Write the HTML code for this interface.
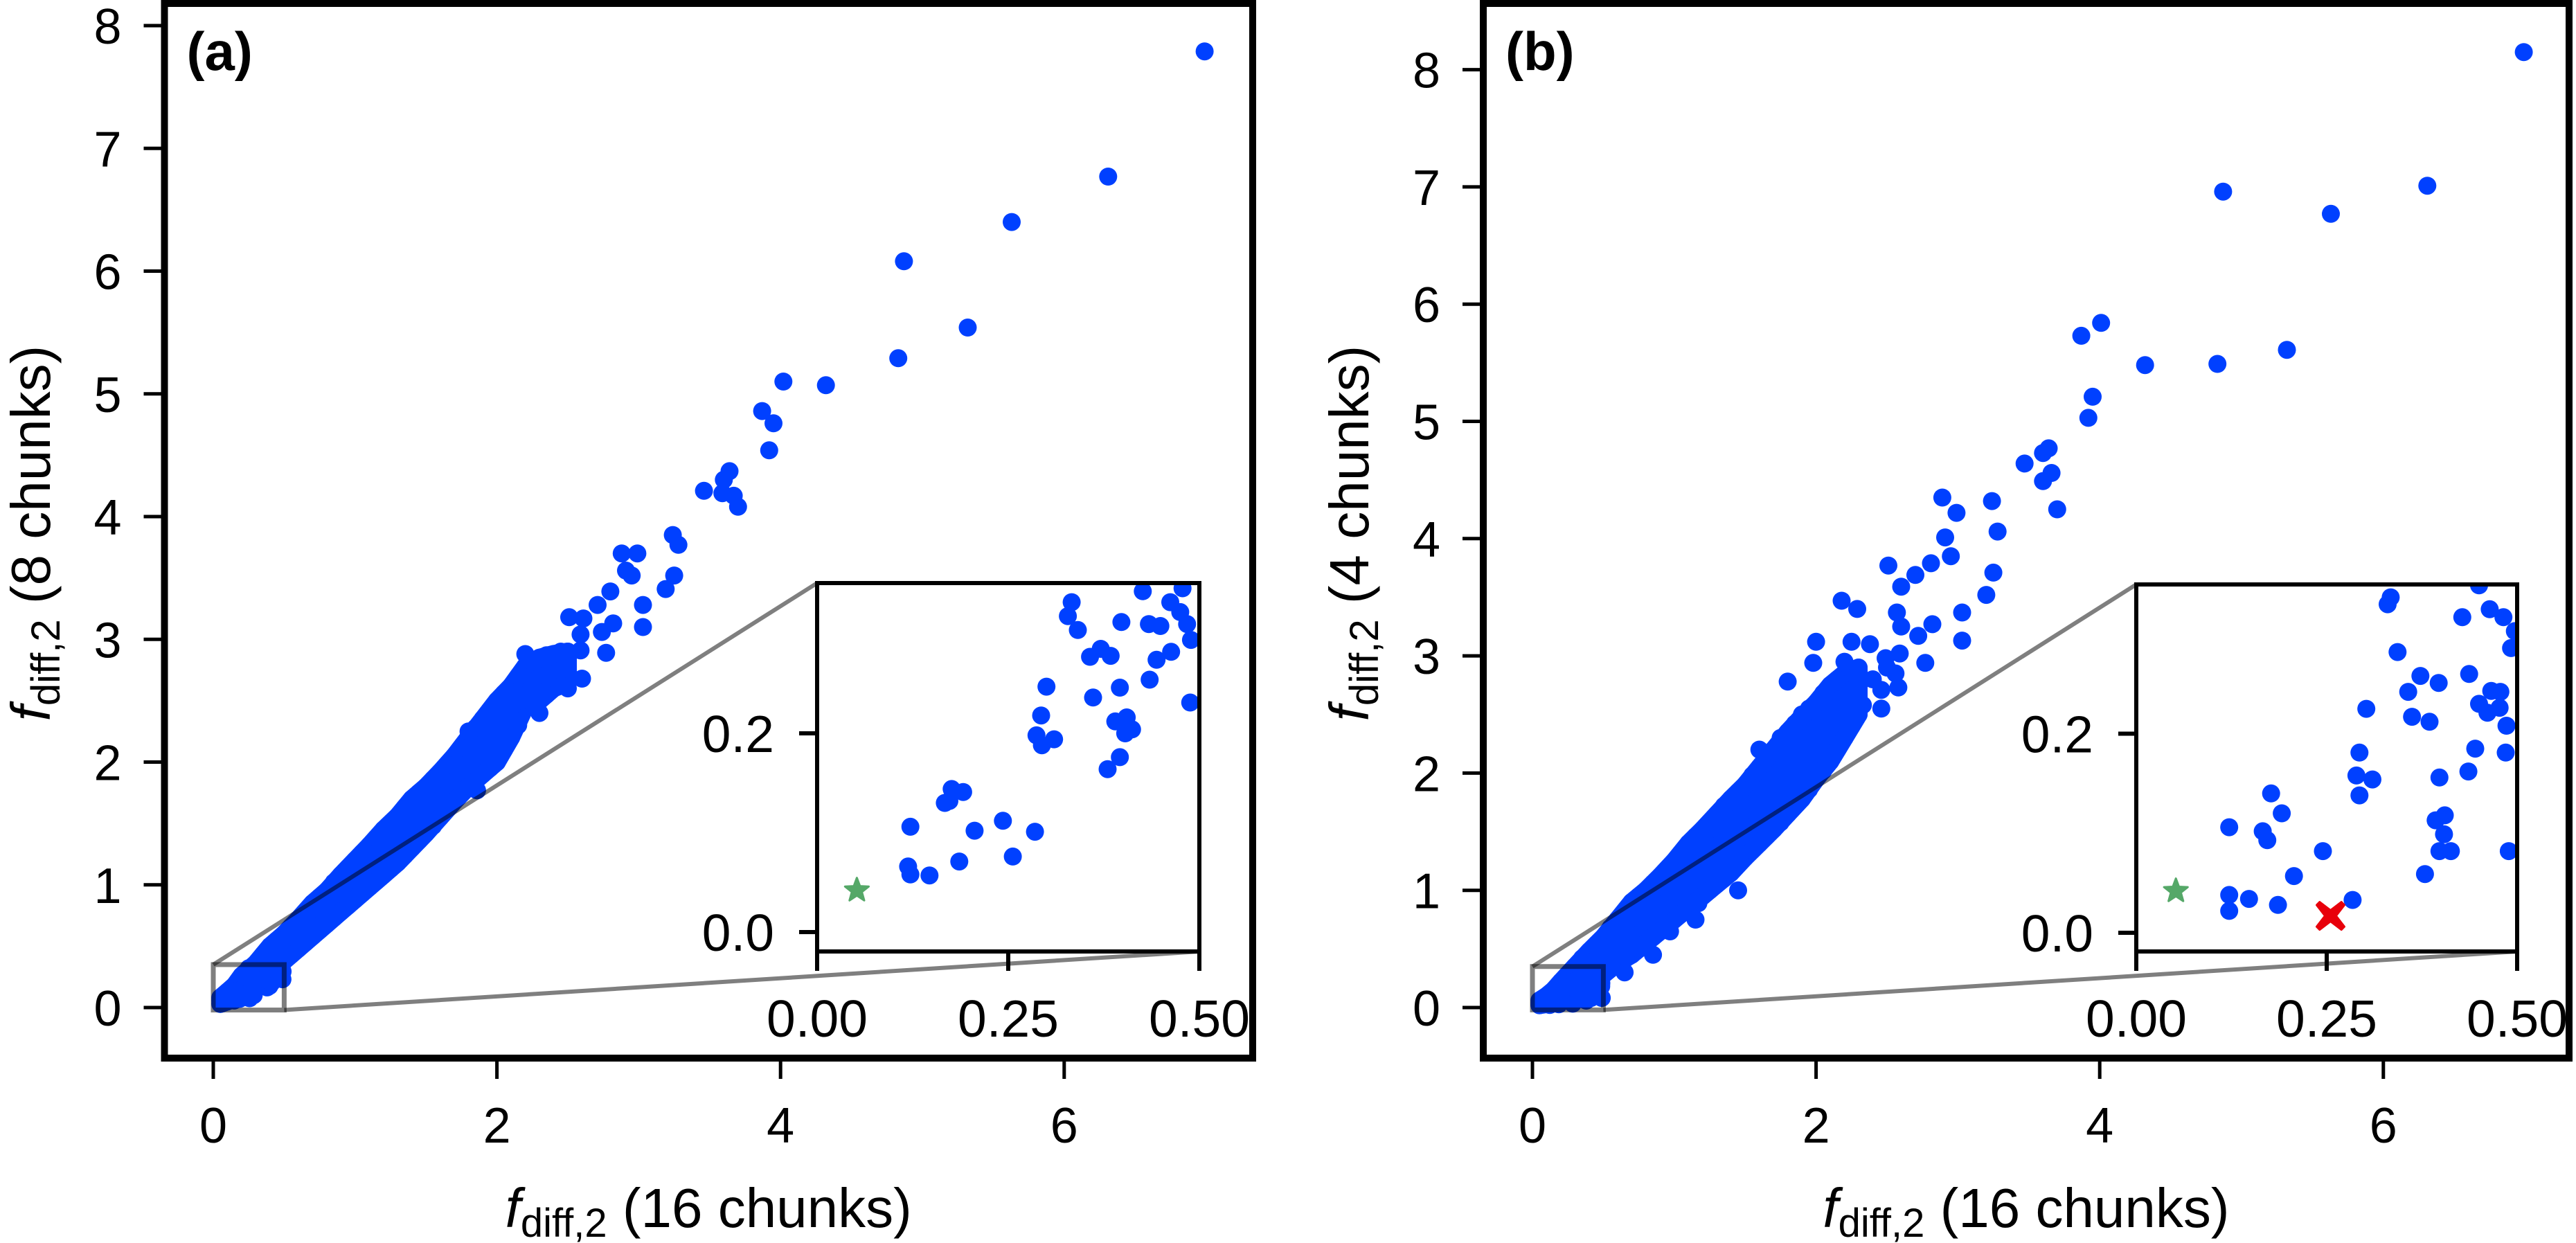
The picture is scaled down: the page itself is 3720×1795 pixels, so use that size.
<!DOCTYPE html>
<html><head><meta charset="utf-8">
<style>
html,body{margin:0;padding:0;background:#fff;}
svg{display:block;font-family:"Liberation Sans",sans-serif;}
</style></head>
<body>
<svg id="fig" width="3720" height="1795" viewBox="0 0 3720 1795" xmlns="http://www.w3.org/2000/svg"></svg>
<script>
// ---- Panel (a) data: x = f_diff,2 (16 chunks), y = f_diff,2 (8 chunks)
const aOutX = [6.99,6.31,5.63,4.87,4.83,5.32,4.32,4.02,3.87,3.95,3.92,3.46,3.64,3.60,3.59,3.67,3.70,3.24,3.28,3.25,3.19,3.03,3.03,2.88,2.99,2.91,2.95,2.80,2.71,2.82,2.74,2.77,2.51,2.61,2.59,2.59];
const aOutY = [7.79,6.77,6.40,6.08,5.29,5.54,5.07,5.10,4.86,4.76,4.54,4.21,4.37,4.30,4.19,4.17,4.08,3.85,3.77,3.52,3.41,3.28,3.10,3.70,3.70,3.56,3.52,3.39,3.28,3.13,3.06,2.89,3.18,3.17,3.04,2.91];
const aBandX = [0.05,0.1,0.15,0.2,0.3,0.4,0.5,0.6,0.7,0.8,0.9,1.0,1.1,1.2,1.3,1.4,1.5,1.6,1.7,1.8,1.9,2.0,2.1,2.2,2.3,2.4,2.5];
const aBandLow = [0.03,0.05,0.08,0.12,0.2,0.28,0.38,0.48,0.58,0.68,0.78,0.88,0.98,1.08,1.18,1.3,1.42,1.55,1.68,1.8,1.9,2.0,2.2,2.45,2.5,2.6,2.65];
const aBandMid = [0.06,0.1,0.15,0.2,0.3,0.42,0.52,0.64,0.75,0.86,0.98,1.08,1.2,1.3,1.42,1.55,1.66,1.78,1.9,2.05,2.15,2.28,2.4,2.58,2.65,2.72,2.78];
const aBandHigh = [0.08,0.13,0.18,0.26,0.36,0.5,0.6,0.72,0.85,0.95,1.08,1.2,1.32,1.45,1.56,1.7,1.8,1.92,2.05,2.2,2.35,2.5,2.62,2.78,2.85,2.88,2.9];
const aBand2X = [0.25,0.35,0.45,0.55,0.65,0.75,0.85,0.95,1.05,1.15,1.25,1.35,1.45,1.55,1.65,1.75,1.85,1.95,2.05,2.15,2.25,2.35,2.45];
const aBand2Low = [0.16,0.24,0.33,0.43,0.53,0.63,0.73,0.83,0.93,1.03,1.13,1.24,1.36,1.48,1.62,1.74,1.85,1.95,2.1,2.3,2.48,2.55,2.62];
const aBand2Mid = [0.25,0.36,0.47,0.58,0.7,0.8,0.92,1.03,1.14,1.25,1.36,1.48,1.6,1.72,1.84,1.97,2.1,2.22,2.34,2.5,2.62,2.7,2.75];
const aBand2High = [0.32,0.43,0.55,0.66,0.78,0.9,1.02,1.14,1.26,1.38,1.5,1.63,1.75,1.86,1.98,2.12,2.28,2.42,2.56,2.7,2.82,2.87,2.9];
const aExtraX = [2.2,2.35,2.45,2.5,2.3,1.9,1.8,2.6,1.86,0.9,1.0,2.15,2.05];
const aExtraY = [2.88,2.85,2.75,2.6,2.4,2.35,2.25,2.68,1.77,0.95,1.05,2.55,2.45];
const aInX = [0.122,0.119,0.122,0.147,0.186,0.167,0.173,0.176,0.191,0.206,0.243,0.256,0.285,0.287,0.293,0.294,0.310,0.300,0.328,0.333,0.341,0.357,0.371,0.384,0.361,0.380,0.396,0.396,0.390,0.405,0.403,0.412,0.398,0.426,0.435,0.444,0.434,0.449,0.463,0.462,0.475,0.478,0.484,0.489,0.488];
const aInY = [0.106,0.066,0.058,0.057,0.071,0.130,0.132,0.144,0.141,0.102,0.112,0.076,0.101,0.198,0.218,0.188,0.194,0.247,0.318,0.332,0.304,0.277,0.285,0.278,0.236,0.164,0.176,0.246,0.212,0.216,0.200,0.204,0.312,0.343,0.254,0.274,0.310,0.308,0.282,0.332,0.322,0.346,0.310,0.294,0.231];
const aStar = [0.052,0.042];

// ---- Panel (b) data: x = f_diff,2 (16 chunks), y = f_diff,2 (4 chunks)
const bOutX = [6.99,6.31,5.63,4.87,4.83,5.32,4.32,4.01,3.87,3.95,3.92,3.47,3.60,3.64,3.60,3.66,3.70,3.24,3.28,3.25,3.20,3.03,3.03,2.89,2.99,2.91,2.95,2.81,2.70,2.60,2.51,2.82,2.72,2.77,2.57,2.60,2.18,2.29,2.25,2.38,2.00,1.98,1.80,2.49,2.59,2.56,2.46,2.33,2.29,1.87,2.58,2.46,1.35,1.17,0.97];
const bOutY = [8.15,7.01,6.77,6.96,5.49,5.61,5.48,5.84,5.73,5.21,5.03,4.64,4.73,4.77,4.49,4.56,4.25,4.32,4.06,3.71,3.52,3.37,3.13,4.35,4.22,4.01,3.85,3.79,3.69,3.59,3.77,3.27,3.17,2.94,3.37,3.25,3.47,3.40,3.12,3.10,3.12,2.94,2.78,2.98,3.02,2.85,2.71,2.58,2.49,1.79,2.73,2.55,1.14,0.89,0.65];
const bBandX = [0.05,0.1,0.15,0.2,0.3,0.4,0.5,0.6,0.7,0.8,0.9,1.0,1.1,1.2,1.3,1.4,1.5,1.6,1.7,1.8,1.9,2.0,2.1,2.2,2.3];
const bBandLow = [0.02,0.03,0.05,0.08,0.12,0.2,0.28,0.38,0.45,0.55,0.65,0.75,0.85,0.95,1.05,1.15,1.28,1.4,1.52,1.65,1.78,1.95,2.1,2.3,2.5];
const bBandMid = [0.04,0.06,0.1,0.15,0.25,0.35,0.45,0.58,0.7,0.82,0.95,1.05,1.2,1.32,1.45,1.55,1.68,1.8,1.95,2.1,2.22,2.35,2.5,2.62,2.7];
const bBandHigh = [0.06,0.1,0.15,0.22,0.35,0.48,0.6,0.75,0.9,1.0,1.12,1.25,1.4,1.52,1.65,1.78,1.9,2.05,2.2,2.35,2.48,2.6,2.75,2.85,2.9];
const bBand2X = [0.25,0.35,0.45,0.55,0.65,0.75,0.85,0.95,1.05,1.15,1.25,1.35,1.45,1.55,1.65,1.75,1.85,1.95,2.05,2.15,2.25];
const bBand2Low = [0.1,0.16,0.24,0.33,0.41,0.5,0.6,0.7,0.8,0.9,1.0,1.1,1.22,1.34,1.46,1.58,1.72,1.86,2.02,2.2,2.4];
const bBand2Mid = [0.2,0.3,0.4,0.52,0.64,0.76,0.88,1.0,1.12,1.26,1.38,1.5,1.62,1.74,1.88,2.02,2.16,2.28,2.42,2.56,2.66];
const bBand2High = [0.28,0.42,0.54,0.68,0.82,0.95,1.06,1.18,1.32,1.46,1.58,1.72,1.84,1.98,2.12,2.28,2.42,2.55,2.68,2.8,2.88];
const bExtraX = [2.4,2.5,2.2,2.0,1.9,1.75,1.6,0.65,0.85,1.15,1.45];
const bExtraY = [2.8,2.9,2.95,2.6,2.5,2.3,2.2,0.3,0.45,0.75,1.0];
const bInX = [0.122,0.122,0.122,0.148,0.186,0.166,0.172,0.177,0.191,0.207,0.245,0.284,0.289,0.293,0.293,0.302,0.310,0.330,0.334,0.343,0.357,0.362,0.373,0.385,0.379,0.393,0.397,0.398,0.405,0.404,0.398,0.413,0.428,0.436,0.445,0.437,0.450,0.450,0.461,0.464,0.466,0.478,0.477,0.482,0.486,0.485,0.489,0.492,0.497];
const bInY = [0.106,0.038,0.022,0.034,0.028,0.102,0.093,0.140,0.120,0.057,0.082,0.033,0.158,0.181,0.138,0.225,0.154,0.330,0.337,0.282,0.242,0.217,0.258,0.212,0.059,0.113,0.251,0.156,0.118,0.099,0.082,0.082,0.317,0.162,0.185,0.260,0.349,0.230,0.221,0.325,0.243,0.242,0.226,0.317,0.208,0.181,0.082,0.286,0.303];
const bStar = [0.052,0.042];
const bCross = [0.255,0.017];

const mainXTicks = [0,2,4,6];
const aYTicks = [0,1,2,3,4,5,6,7,8];
const bYTicks = [0,1,2,3,4,5,6,7,8];
const inXTicks = [0,0.25,0.5];
const inXLabels = ["0.00","0.25","0.50"];
const inYTicks = [0,0.2];
const inYLabels = ["0.0","0.2"];

const NS = "http://www.w3.org/2000/svg";
const svg = document.getElementById('fig');
const BLUE = "#0040ff";
const DOT_R = 13;
function el(tag, attrs, parent){
  const e = document.createElementNS(NS, tag);
  for (const k in attrs) e.setAttribute(k, attrs[k]);
  (parent||svg).appendChild(e);
  return e;
}
function lin(d0,d1,r0,r1){ return v => r0 + (v-d0)/(d1-d0)*(r1-r0); }

function star(cx, cy, R, parent){
  let pts=[];
  for(let i=0;i<10;i++){
    const r = i%2===0 ? R : R*0.42;
    const a = -Math.PI/2 + i*Math.PI/5;
    pts.push((cx+r*Math.cos(a)).toFixed(1)+","+(cy+r*Math.sin(a)).toFixed(1));
  }
  return el('polygon',{points:pts.join(' '),fill:'#55a868','stroke':'#55a868','stroke-width':3,'stroke-linejoin':'round'},parent);
}
function cross(cx, cy, s, parent){
  const w=s*0.36;
  const p=[[-s+w*0.6,-s],[0,-w*1.1],[s-w*0.6,-s],[s,-s+w*0.6],[w*1.1,0],[s,s-w*0.6],[s-w*0.6,s],[0,w*1.1],[-s+w*0.6,s],[-s,s-w*0.6],[-w*1.1,0],[-s,-s+w*0.6]];
  return el('polygon',{points:p.map(q=>(cx+q[0]).toFixed(1)+","+(cy+q[1]).toFixed(1)).join(' '),fill:'#e8000b','stroke':'#e8000b','stroke-width':3,'stroke-linejoin':'round'},parent);
}

function panel(cfg){
  const g = el('g',{});
  
  
  const X = lin(0,1,cfg.x0,cfg.x0+cfg.xs);
  const Y = lin(0,1,cfg.y0,cfg.y0-cfg.ys);
  const L=cfg.left,R=cfg.right,T=5,B=1528;
  // dense band area (drawn from band low/high arrays)
  const lowPts = cfg.bandX.map((x,i)=>X(x).toFixed(1)+","+Y(cfg.bandLow[i]).toFixed(1));
  const highPts = cfg.bandX.map((x,i)=>X(x).toFixed(1)+","+Y(cfg.bandHigh[i]).toFixed(1)).reverse();
  const band = el('polygon',{points:lowPts.concat(highPts).join(' '),fill:BLUE,stroke:BLUE,'stroke-width':DOT_R*2,'stroke-linejoin':'round'},g);
  
  
  const pg = el('g',{},g);
  
  
  function dot(x,y){
    const c = el('circle',{cx:X(x).toFixed(1),cy:Y(y).toFixed(1),r:DOT_R,fill:BLUE},pg);
    
    
  }
  cfg.bandX.forEach((x,i)=>{dot(x,cfg.bandLow[i]);dot(x,cfg.bandMid[i]);dot(x,cfg.bandHigh[i]);});
  cfg.band2X.forEach((x,i)=>{dot(x,cfg.band2Low[i]);dot(x,cfg.band2Mid[i]);dot(x,cfg.band2High[i]);});
  cfg.inX.forEach((x,i)=>dot(x,cfg.inY[i]));
  cfg.exX.forEach((x,i)=>dot(x,cfg.exY[i]));
  cfg.outX.forEach((x,i)=>dot(x,cfg.outY[i]));
  const zx0=X(0), zx1=X(0.5), zy0=Y(0.35), zy1=Y(-0.02);
  const zr = el('rect',{x:zx0,y:zy0,width:zx1-zx0,height:zy1-zy0,fill:'none',stroke:'rgba(0,0,0,0.5)','stroke-width':7},g);
  
  
  const c1 = el('line',{x1:zx0,y1:zy0,x2:cfg.inL,y2:cfg.inT,stroke:'rgba(0,0,0,0.5)','stroke-width':6},g);
  
  
  const c2 = el('line',{x1:zx1,y1:zy1,x2:cfg.inR,y2:cfg.inB,stroke:'rgba(0,0,0,0.5)','stroke-width':6},g);
  
  
  const fr = el('rect',{x:L,y:T,width:R-L,height:B-T,fill:'none',stroke:'#000','stroke-width':10},g);
  
  
  mainXTicks.forEach(t=>{
    const x=X(t);
    const tl = el('line',{x1:x,y1:B+5,x2:x,y2:B+30,stroke:'#000','stroke-width':5},g);
    
    
    const tx = el('text',{x:x,y:1650,'font-size':72,'text-anchor':'middle'},g);
    tx.textContent = t;
    
    
  });
  cfg.yTicks.forEach(t=>{
    const y=Y(t);
    const tl = el('line',{x1:L-5,y1:y,x2:L-30,y2:y,stroke:'#000','stroke-width':5},g);
    
    
    const tx = el('text',{x:L-62,y:y+26,'font-size':72,'text-anchor':'end'},g);
    tx.textContent = t;
    
    
  });
  const xl = el('text',{x:(L+R)/2,y:1772,'font-size':80,'text-anchor':'middle'},g);
  xl.innerHTML = '<tspan font-style="italic">f</tspan><tspan font-size="58" dy="14">diff,2</tspan><tspan dy="-14"> (16 chunks)</tspan>';
  
  
  const yl = el('text',{x:0,y:0,'font-size':80,'text-anchor':'middle',transform:`translate(${cfg.ylabX},770) rotate(-90)`},g);
  yl.innerHTML = '<tspan font-style="italic">f</tspan><tspan font-size="58" dy="14">diff,2</tspan><tspan dy="-14"> ('+cfg.chunks+' chunks)</tspan>';
  
  
  const pl = el('text',{x:L+32,y:101,'font-size':78,'font-weight':'bold'},g);
  pl.textContent = cfg.letter;
  
  

  const ig = el('g',{},g);
  
  
  const IX = lin(0,0.5,cfg.inL,cfg.inR);
  const IY = lin(0,0.2,cfg.in0,cfg.in02);
  el('rect',{x:cfg.inL,y:cfg.inT,width:cfg.inR-cfg.inL,height:cfg.inB-cfg.inT,fill:'#fff'},ig);
  const cpId = 'clip'+cfg.letter.replace(/\W/g,'');
  const cp = el('clipPath',{id:cpId},ig);
  el('rect',{x:cfg.inL,y:cfg.inT,width:cfg.inR-cfg.inL,height:cfg.inB-cfg.inT},cp);
  const ip = el('g',{'clip-path':`url(#${cpId})`},ig);
  
  
  cfg.inX.forEach((x,i)=>{
    const c = el('circle',{cx:IX(x).toFixed(1),cy:IY(cfg.inY[i]).toFixed(1),r:DOT_R,fill:BLUE},ip);
    
    
  });
  const st = star(IX(cfg.star[0]),IY(cfg.star[1]),18,ip);
  
  
  if (cfg.cross){
    const cr = cross(IX(cfg.cross[0]),IY(cfg.cross[1]),20,ip);
    
    
  }
  const ifr = el('rect',{x:cfg.inL,y:cfg.inT,width:cfg.inR-cfg.inL,height:cfg.inB-cfg.inT,fill:'none',stroke:'#000','stroke-width':6},ig);
  
  
  inXTicks.forEach((t,i)=>{
    const x=IX(t);
    const tl = el('line',{x1:x,y1:cfg.inB,x2:x,y2:cfg.inB+28,stroke:'#000','stroke-width':6},ig);
    
    
    const tx = el('text',{x:x,y:1497,'font-size':75,'text-anchor':'middle'},ig);
    tx.textContent = inXLabels[i];
    
    
  });
  inYTicks.forEach((t,i)=>{
    const y=IY(t);
    const tl = el('line',{x1:cfg.inL,y1:y,x2:cfg.inL-26,y2:y,stroke:'#000','stroke-width':6},ig);
    
    
    const tx = el('text',{x:cfg.inL-62,y:y+27,'font-size':75,'text-anchor':'end'},ig);
    tx.textContent = inYLabels[i];
    
    
  });
}

panel({name:'panel-a',letter:'(a)',chunks:'8',left:237.5,right:1809,x0:308,xs:204.8,y0:1455,ys:177.25,
  yTicks:aYTicks,ylabX:72,
  bandX:aBandX,bandLow:aBandLow,bandMid:aBandMid,bandHigh:aBandHigh,
  band2X:aBand2X,band2Low:aBand2Low,band2Mid:aBand2Mid,band2High:aBand2High,
  exX:aExtraX,exY:aExtraY,outX:aOutX,outY:aOutY,
  inX:aInX,inY:aInY,star:aStar,cross:null,
  inL:1180,inR:1732,inT:842,inB:1374,in0:1346,in02:1059});
panel({name:'panel-b',letter:'(b)',chunks:'4',left:2142,right:3710,x0:2213,xs:204.8,y0:1455,ys:169.3,
  yTicks:bYTicks,ylabX:1976,
  bandX:bBandX,bandLow:bBandLow,bandMid:bBandMid,bandHigh:bBandHigh,
  band2X:bBand2X,band2Low:bBand2Low,band2Mid:bBand2Mid,band2High:bBand2High,
  exX:bExtraX,exY:bExtraY,outX:bOutX,outY:bOutY,
  inX:bInX,inY:bInY,star:bStar,cross:bCross,
  inL:3085,inR:3635,inT:844,inB:1374,in0:1347,in02:1059.5});
</script>
</body></html>
